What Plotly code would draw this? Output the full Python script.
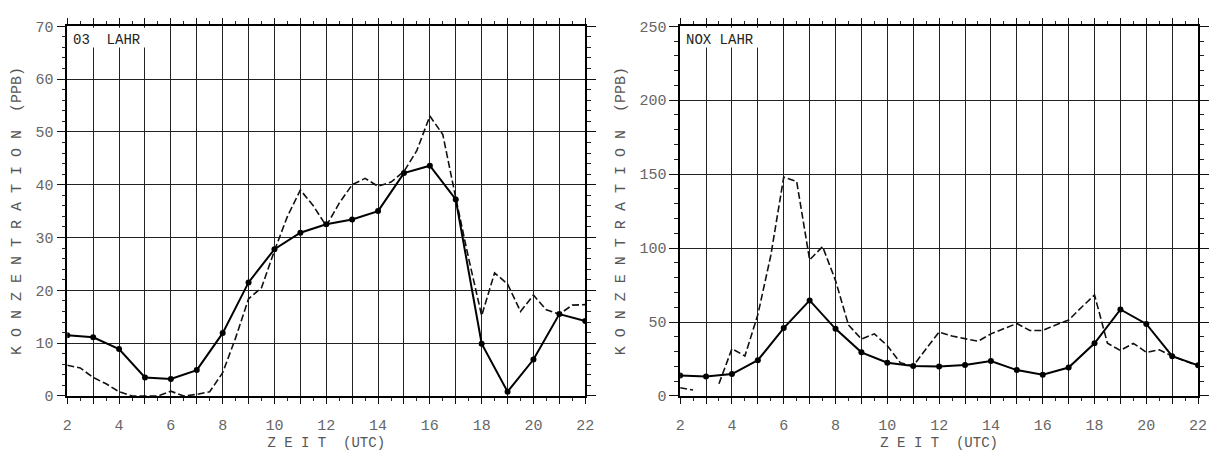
import plotly.graph_objects as go

# ---- data ----
hours = list(range(2, 23))
half_hours = [2 + 0.5 * i for i in range(41)]

o3_solid = [11.5, 11.1, 8.9, 3.5, 3.2, 4.9, 11.9, 21.5, 27.8, 30.9, 32.5,
            33.4, 35.0, 42.2, 43.6, 37.2, 9.9, 0.8, 6.9, 15.5, 14.2]
o3_dashed = [5.8, 5.3, 3.5, 2.3, 0.8, 0.0, 0.0, 0.0, 0.9, 0.0, 0.3, 0.8,
             4.4, 11.0, 18.4, 20.5, 27.5, 34.0, 39.0, 36.0, 32.2, 36.5,
             40.0, 41.2, 39.7, 40.5, 42.5, 46.5, 53.0, 49.5, 37.5, 26.0,
             15.2, 23.3, 21.2, 16.0, 19.1, 16.3, 15.5, 17.2, 17.3]

nox_solid = [13.8, 13.1, 14.8, 24.2, 45.9, 64.6, 45.4, 29.5, 22.5, 20.3, 19.9,
             21.0, 23.6, 17.5, 14.4, 19.2, 35.6, 58.5, 48.7, 26.9, 20.7]
nox_dashed = [5.5, 4.0, None, 8.3, 32.0, 27.0, 55.0, 95.0, 148.0, 145.0,
              92.0, 101.0, 78.0, 48.0, 38.5, 42.0, 34.0, 22.5, 20.3, 32.0,
              43.2, 40.5, 38.9, 37.0, 42.0, 45.5, 49.0, 44.3, 44.3, 48.0,
              51.3, 60.0, 68.3, 35.6, 30.8, 35.6, 29.5, 31.2, 26.9, 23.6, 20.3]

x_tick_vals = hours
x_tick_text = [str(h) if h % 2 == 0 else "" for h in hours]

panel_titles = ["03  LAHR", "NOX LAHR"]
y_ranges = [[0, 70], [0, 250]]
y_dticks = [10, 50]
y_minor = [2, 10]
y_title = "K O N Z E N T R A T I O N  (PPB)"
x_title = "Z E I T  (UTC)"

W, H = 1217, 457
FONT = "Liberation Mono"

fig = go.Figure()

panels = [(o3_solid, o3_dashed), (nox_solid, nox_dashed)]
for i, (solid, dashed) in enumerate(panels):
    xa = "x" if i == 0 else "x2"
    ya = "y" if i == 0 else "y2"
    fig.add_trace(go.Scatter(x=half_hours, y=dashed, mode="lines",
                             line=dict(color="#111", width=1.6, dash="7px,3px"),
                             connectgaps=False, xaxis=xa, yaxis=ya, showlegend=False))
    fig.add_trace(go.Scatter(x=hours, y=solid, mode="lines+markers",
                             line=dict(color="#000", width=2),
                             marker=dict(color="#000", size=6),
                             xaxis=xa, yaxis=ya, showlegend=False))

x_domains = [[63 / W, 587 / W], [683 / W, 1207 / W]]
y_domain = [1 - 404 / H, 1 - 20 / H]

def xaxis_cfg(dom):
    return dict(domain=dom, range=[2, 22], tickmode="array", tickvals=x_tick_vals,
                ticktext=x_tick_text, ticks="outside", ticklen=6, tickwidth=1.2,
                tickcolor="#111", showgrid=True, gridcolor="#222", gridwidth=1.3,
                showline=True, linecolor="#000", linewidth=2, mirror="allticks",
                zeroline=False, ticklabelstandoff=8,
                minor=dict(dtick=0.5, ticks="outside", ticklen=3, tickcolor="#222",
                           showgrid=False),
                tickfont=dict(family=FONT, size=15, color="#666"),
                title=dict(text=x_title, font=dict(family=FONT, size=14, color="#555"),
                           standoff=1))

def yaxis_cfg(rng, dt, mn, anchor):
    return dict(domain=y_domain, range=rng, dtick=dt, tick0=0, ticks="outside",
                ticklen=9, tickwidth=1.2, tickcolor="#111", showgrid=True,
                gridcolor="#222", gridwidth=1.3, showline=True, linecolor="#000",
                linewidth=1.5, mirror="allticks", zeroline=False, anchor=anchor,
                minor=dict(dtick=mn, ticks="outside", ticklen=4, tickcolor="#222",
                           showgrid=False),
                tickfont=dict(family=FONT, size=15, color="#666"),
                title=dict(text=y_title, font=dict(family=FONT, size=15, color="#555"),
                           standoff=10))

fig.update_layout(
    width=W, height=H, margin=dict(l=0, r=0, t=0, b=0),
    paper_bgcolor="white", plot_bgcolor="white",
    xaxis=xaxis_cfg(x_domains[0]) | dict(anchor="y"),
    xaxis2=xaxis_cfg(x_domains[1]) | dict(anchor="y2"),
    yaxis=yaxis_cfg(y_ranges[0], y_dticks[0], y_minor[0], "x"),
    yaxis2=yaxis_cfg(y_ranges[1], y_dticks[1], y_minor[1], "x2"),
)

for i, t in enumerate(panel_titles):
    xs = "x domain" if i == 0 else "x2 domain"
    ys = "y domain" if i == 0 else "y2 domain"
    fig.add_shape(type="rect", xref=xs, yref=ys, x0=0.004, x1=0.185,
                  y0=1 - 22 / 384, y1=0.996, fillcolor="white", line=dict(width=0),
                  layer="above")
    fig.add_annotation(text=t, xref=xs, yref=ys, x=0.008, y=0.99, xanchor="left",
                       yanchor="top", showarrow=False,
                       font=dict(family=FONT, size=14, color="#222"))

fig.write_html("out.html")
